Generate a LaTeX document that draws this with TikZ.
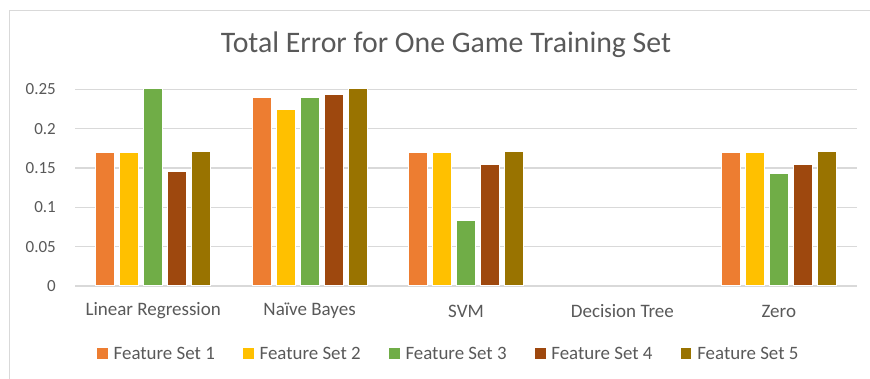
\documentclass[tikz,border=0pt]{standalone}
\usepackage{fontspec}
\setmainfont{Carlito}
\definecolor{fsA}{HTML}{ED7D31}
\definecolor{fsB}{HTML}{FFC000}
\definecolor{fsC}{HTML}{70AD47}
\definecolor{fsD}{HTML}{9E480E}
\definecolor{fsE}{HTML}{997300}
\definecolor{txt}{HTML}{595959}
\definecolor{gridc}{HTML}{D9D9D9}
\begin{document}
\begin{tikzpicture}[x=1pt,y=-1pt,
  framestyle/.style={draw=gridc,line width=1pt},
  gridstyle/.style={draw=gridc,line width=1.3pt},
  barstyle/.style={draw=white,line width=0.5pt},
  ticklabel/.style={text=txt,font=\fontsize{17}{20}\selectfont,anchor=east,inner sep=0pt},
  catlabel/.style={text=txt,font=\fontsize{19}{22}\selectfont,inner sep=0pt},
  legtext/.style={text=txt,font=\fontsize{18.9}{22}\selectfont,anchor=west,inner sep=0pt},
  titlestyle/.style={text=txt,font=\fontsize{29.8}{34}\selectfont,inner sep=0pt}]
\useasboundingbox (0,0) rectangle (870,379);
\fill[white] (0,0) rectangle (870,379);
\draw[framestyle] (9.5,379) -- (9.5,10.5) -- (870,10.5);
% gridlines and tick labels
\foreach \k/\lab in {0/0,1/0.05,2/0.1,3/0.15,4/0.2,5/0.25}{
  \draw[gridstyle] (75,286-39.3*\k) -- (857,286-39.3*\k);
  \node[ticklabel] (tick\k) at (56,286-39.3*\k) {\lab};
}
% title
\node[titlestyle] (title) at (446,45) {Total Error for One Game Training Set};
% bars
\foreach \i/\vals in {0/{0.1705,0.1705,0.251,0.146,0.172},
                      1/{0.2396,0.225,0.2396,0.2445,0.251},
                      2/{0.1705,0.1705,0.0836,0.155,0.172},
                      4/{0.1705,0.1705,0.1434,0.1545,0.172}}{
  \foreach \v [count=\j from 0] in \vals {
    \pgfmathsetmacro{\xl}{75+156.4*(\i+0.5)-57.5+24*\j}
    \pgfmathsetmacro{\yt}{286-786*\v}
    \ifcase\j \def\cc{fsA}\or \def\cc{fsB}\or \def\cc{fsC}\or \def\cc{fsD}\or \def\cc{fsE}\fi
    \filldraw[barstyle,fill=\cc] (\xl,285.5) rectangle (\xl+19,\yt);
  }
}
% category labels
\foreach \i/\lab in {0/Linear Regression,1/Naïve Bayes,2/SVM,3/Decision Tree,4/Zero}{
  \node[catlabel] (cat\i) at (75+156.4*\i+78.2,311) {\lab};
}
% legend
\foreach \j/\cc in {0/fsA,1/fsB,2/fsC,3/fsD,4/fsE}{
  \fill[\cc] (97.3+145.9*\j,348) rectangle ++(10.5,10.8);
  \node[legtext] (leg\j) at (113.5+145.9*\j,353.4) {Feature Set \the\numexpr\j+1\relax};
}
\end{tikzpicture}
\end{document}
